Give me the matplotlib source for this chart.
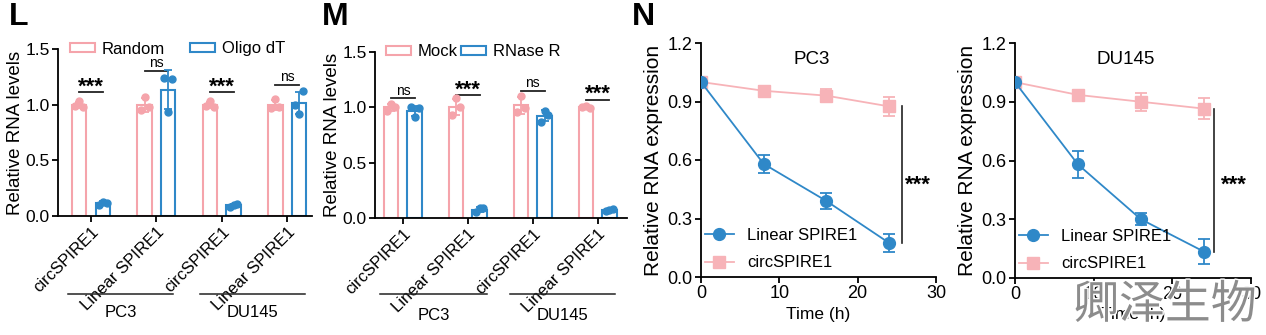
import matplotlib
matplotlib.use("Agg")
import matplotlib.pyplot as plt
import matplotlib.patheffects as pe
from matplotlib.patches import Patch
from matplotlib.lines import Line2D
from matplotlib.transforms import blended_transform_factory
import numpy as np

plt.rcParams['font.family'] = ['Liberation Sans', 'DejaVu Sans']
plt.rcParams['font.size'] = 12

pink = '#F5A4AB'
blue = '#2F88C8'
pink_line = '#F7B3B8'

genes = ['circSPIRE1', 'Linear SPIRE1', 'circSPIRE1', 'Linear SPIRE1']
cells = ['PC3', 'DU145']

# panel L: three replicates per bar
l_random = [[0.99, 1.03, 0.98], [0.95, 1.07, 0.98], [0.99, 1.03, 0.98], [0.97, 1.05, 0.98]]
l_oligo = [[0.10, 0.13, 0.12], [1.24, 0.93, 1.23], [0.08, 0.10, 0.11], [1.00, 0.92, 1.12]]
l_sig = [1.11, 1.30, 1.11, 1.18]
l_sig_txt = ['***', 'ns', '***', 'ns']

# panel M
m_mock = [[0.97, 1.03, 1.00], [0.93, 1.08, 1.00], [0.96, 1.10, 0.99], [1.00, 1.01, 0.99]]
m_rnase = [[1.00, 0.91, 0.99], [0.05, 0.09, 0.09], [0.87, 0.97, 0.93], [0.06, 0.07, 0.08]]
m_sig = [1.08, 1.11, 1.15, 1.07]
m_sig_txt = ['ns', '***', 'ns', '***']

# panel N
hours = [0, 8, 16, 24]
pc3_linear = [1.0, 0.58, 0.39, 0.175]
pc3_linear_sd = [0.01, 0.045, 0.04, 0.045]
pc3_circ = [1.0, 0.955, 0.93, 0.875]
pc3_circ_sd = [0.01, 0.025, 0.035, 0.05]
du_linear = [1.0, 0.58, 0.30, 0.135]
du_linear_sd = [0.01, 0.07, 0.03, 0.065]
du_circ = [1.0, 0.935, 0.90, 0.865]
du_circ_sd = [0.01, 0.025, 0.045, 0.055]

W, H = 1266, 335
fig = plt.figure(figsize=(W / 100, H / 100), dpi=100)


def px_axes(left, right, top, bottom):
    return fig.add_axes([left / W, 1 - bottom / H, (right - left) / W, (bottom - top) / H])


def style(ax, fs):
    for s in ['top', 'right']:
        ax.spines[s].set_visible(False)
    for s in ['left', 'bottom']:
        ax.spines[s].set_linewidth(1.3)
    ax.tick_params(width=1.3, length=4, labelsize=fs, pad=2)


def bar_panel(ax, a, b, sig, sig_txt, labels, xlim, group_lines):
    style(ax, 12.5)
    x = np.arange(len(genes))
    off, w = 0.18, 0.22
    jit = np.array([-0.06, 0, 0.06])
    for reps, sign, col in [(a, -1, pink), (b, 1, blue)]:
        reps = np.array(reps)
        m = reps.mean(axis=1)
        sd = reps.std(axis=1, ddof=1)
        xs = x + sign * off
        ax.bar(xs, m, width=w, facecolor='white', edgecolor=col, linewidth=1.5, zorder=2)
        ax.errorbar(xs, m, yerr=sd, fmt='none', ecolor=col, elinewidth=1.3, capsize=3, capthick=1.3, zorder=3)
        for i in range(len(xs)):
            ax.plot(xs[i] + jit, reps[i], 'o', color=col, ms=5, zorder=4)
    for i in range(len(genes)):
        ax.plot([x[i] - off, x[i] + off], [sig[i], sig[i]], color='#222222', lw=1.3)
        if sig_txt[i] == '***':
            ax.text(x[i], sig[i] - 0.005, '***', ha='center', va='baseline', fontsize=16, fontweight='bold')
        else:
            ax.text(x[i], sig[i] + 0.035, 'ns', ha='center', va='baseline', fontsize=10)
    ax.set_xlim(*xlim)
    ax.set_ylim(0, 1.5)
    ax.set_yticks([0, 0.5, 1.0, 1.5])
    ax.set_yticklabels(['0.0', '0.5', '1.0', '1.5'])
    ax.set_xticks(x)
    ax.set_xticklabels(genes, rotation=45, ha='right', rotation_mode='anchor', fontsize=12)
    ax.set_ylabel('Relative RNA levels', fontsize=13.5, labelpad=1)
    tr = blended_transform_factory(ax.transData, ax.transAxes)
    for (x0, x1, ly, ty), name in zip(group_lines, cells):
        ax.plot([x0, x1], [ly, ly], color='#222222', lw=1.1, transform=tr, clip_on=False)
        ax.text((x0 + x1) / 2, ty, name, transform=tr, ha='center', va='center', fontsize=12)
    ax.legend(handles=[Patch(facecolor='white', edgecolor=pink, lw=1.5, label=labels[0]),
                       Patch(facecolor='white', edgecolor=blue, lw=1.5, label=labels[1])],
              loc='center', bbox_to_anchor=(labels[2], 1.0), ncol=2, frameon=False,
              handlelength=1.5, handleheight=0.45, handletextpad=0.4, borderpad=0,
              columnspacing=labels[3], fontsize=12)


axL = px_axes(58, 312, 49, 216)
bar_panel(axL, l_random, l_oligo, l_sig, l_sig_txt, ['Random', 'Oligo dT', 0.47, 1.5],
          (-0.505, 3.38), [(-0.35, 1.26, -0.467, -0.58), (1.67, 3.28, -0.467, -0.58)])

axM = px_axes(375, 627, 52, 218)
bar_panel(axM, m_mock, m_rnase, m_sig, m_sig_txt, ['Mock', 'RNase R', 0.39, 0.2],
          (-0.43, 3.45), [(-0.35, 1.29, -0.458, -0.586), (1.65, 3.26, -0.458, -0.586)])


def line_panel(ax, title, lin, lin_sd, circ, circ_sd, sig_x, star_x):
    style(ax, 13)
    ax.errorbar(hours, circ, yerr=circ_sd, color=pink_line, marker='s', ms=8, lw=1.3,
                elinewidth=1.3, capsize=4, capthick=1.3, zorder=2)
    ax.errorbar(hours, lin, yerr=lin_sd, color=blue, marker='o', ms=8.5, lw=1.3,
                elinewidth=1.3, capsize=4, capthick=1.3, zorder=3)
    ax.plot([sig_x, sig_x], [circ[-1], lin[-1]], color='#222222', lw=1.2)
    ax.text(star_x, 0.445, '***', ha='center', va='baseline', fontsize=16, fontweight='bold')
    ax.set_xlim(0, 30)
    ax.set_ylim(0, 1.2)
    ax.set_xticks([0, 10, 20, 30])
    ax.set_yticks([0, 0.3, 0.6, 0.9, 1.2])
    ax.set_yticklabels(['0.0', '0.3', '0.6', '0.9', '1.2'])
    ax.set_xlabel('Time (h)', fontsize=12.5, labelpad=3)
    ax.set_ylabel('Relative RNA expression', fontsize=15, labelpad=3)
    ax.text(0.47, 0.93, title, transform=ax.transAxes, ha='center', va='center', fontsize=13.5)
    handles = [Line2D([], [], color=blue, marker='o', ms=8.5, lw=1.3, label='Linear SPIRE1'),
               Line2D([], [], color=pink_line, marker='s', ms=8, lw=1.3, label='circSPIRE1')]
    ax.legend(handles=handles, loc='lower left', bbox_to_anchor=(-0.01, 0.0), frameon=False,
              fontsize=12, handlelength=1.7, handletextpad=0.8, labelspacing=0.75, borderaxespad=0)


axN1 = px_axes(701, 936, 43, 277)
line_panel(axN1, 'PC3', pc3_linear, pc3_linear_sd, pc3_circ, pc3_circ_sd, 25.6, 27.7)

axN2 = px_axes(1015, 1251, 43, 278)
line_panel(axN2, 'DU145', du_linear, du_linear_sd, du_circ, du_circ_sd, 25.3, 27.8)

for letter, xp in [('L', 9), ('M', 322), ('N', 632)]:
    fig.text(xp / W, 1 - 2 / H, letter, ha='left', va='top', fontsize=23, fontweight='bold')

fig.text(1165 / W, 1 - 305 / H, '卿泽生物', ha='center', va='center', fontsize=33,
         family=['Noto Sans CJK SC', 'DejaVu Sans'], fontweight='light', color='#8c8c8c',
         path_effects=[pe.withStroke(linewidth=2, foreground='white')])

fig.savefig('out.png', dpi=100)
